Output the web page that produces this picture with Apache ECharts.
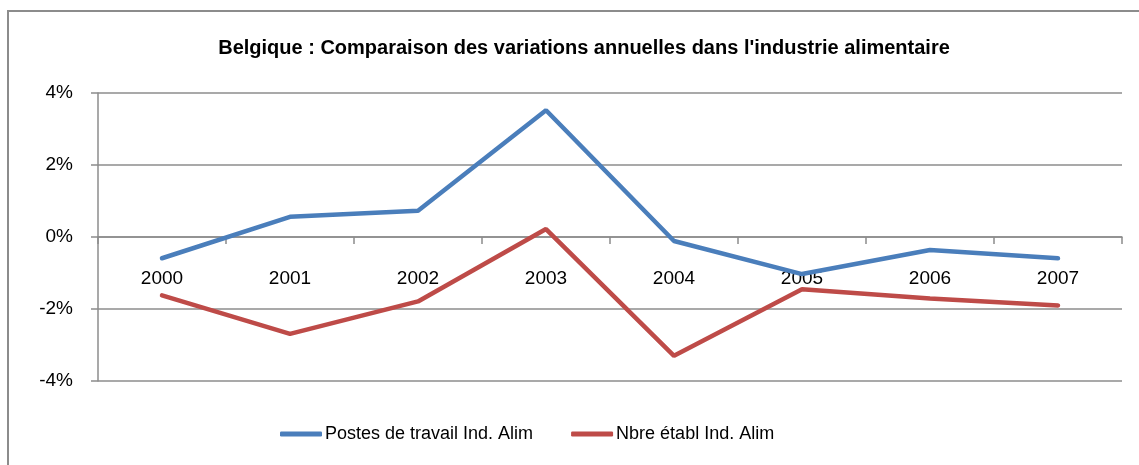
<!DOCTYPE html>
<html>
<head>
<meta charset="utf-8">
<script src="https://cdn.jsdelivr.net/npm/echarts@6/dist/echarts.min.js"></script>
<style>
  html, body { margin: 0; padding: 0; background: #fff; }
  #chart { width: 1139px; height: 465px; }
</style>
</head>
<body>
<div id="chart"></div>
<script>
const years = ['2000', '2001', '2002', '2003', '2004', '2005', '2006', '2007'];
const postes = [-0.59, 0.56, 0.73, 3.52, -0.11, -1.03, -0.36, -0.59];
const etabl = [-1.62, -2.69, -1.79, 0.22, -3.30, -1.45, -1.71, -1.90];
const yTicks = [-4, -2, 0, 2, 4];

const grey = '#8c8c8c';
const font = 'Liberation Sans';

echarts.init(document.getElementById('chart')).setOption({
  animation: false,
  title: {
    text: "Belgique : Comparaison des variations annuelles dans l'industrie alimentaire",
    left: 579,
    top: 33,
    textAlign: 'center',
    textStyle: {
      fontFamily: font,
      fontWeight: 'bold',
      fontSize: 20,
      color: '#000'
    }
  },
  graphic: [{
    type: 'polyline',
    shape: {points: [[8, 465], [8, 11], [1139, 11]]},
    style: {stroke: grey, lineWidth: 2, fill: null}
  }],
  grid: {left: 98, right: 17, top: 93, bottom: 84},
  legend: {
    top: 420,
    left: 275,
    icon: 'roundRect',
    itemWidth: 42,
    itemHeight: 5,
    itemGap: 38,
    textStyle: {fontFamily: font, fontSize: 18, color: '#000', padding: [0, 0, 0, -2]},
    data: ['Postes de travail Ind. Alim', 'Nbre établ Ind. Alim']
  },
  xAxis: {
    type: 'category',
    data: years,
    // Excel draws the category axis at 0%, halfway up the value range
    offset: -144,
    axisLine: {onZero: false, lineStyle: {color: grey, width: 1.5}},
    axisTick: {show: true, length: 7, lineStyle: {color: grey, width: 1.5}},
    axisLabel: {fontFamily: font, fontSize: 19, color: '#000', margin: 32}
  },
  yAxis: {
    type: 'value',
    min: yTicks[0],
    max: yTicks[yTicks.length - 1],
    interval: 2,
    axisLine: {show: true, lineStyle: {color: grey, width: 1.5}},
    axisTick: {show: true, length: 7, lineStyle: {color: grey, width: 1.5}},
    splitLine: {lineStyle: {color: grey, width: 1.5}},
    axisLabel: {fontFamily: font, fontSize: 19, color: '#000', margin: 25, formatter: '{value}%'}
  },
  series: [{
    name: 'Postes de travail Ind. Alim',
    type: 'line',
    data: postes,
    showSymbol: false,
    symbol: 'none',
    lineStyle: {width: 4.5, color: '#4a7ebb', cap: 'round'},
    itemStyle: {color: '#4a7ebb'}
  }, {
    name: 'Nbre établ Ind. Alim',
    type: 'line',
    data: etabl,
    showSymbol: false,
    symbol: 'none',
    lineStyle: {width: 4.5, color: '#be4b48', cap: 'round'},
    itemStyle: {color: '#be4b48'}
  }]
});
</script>
</body>
</html>
